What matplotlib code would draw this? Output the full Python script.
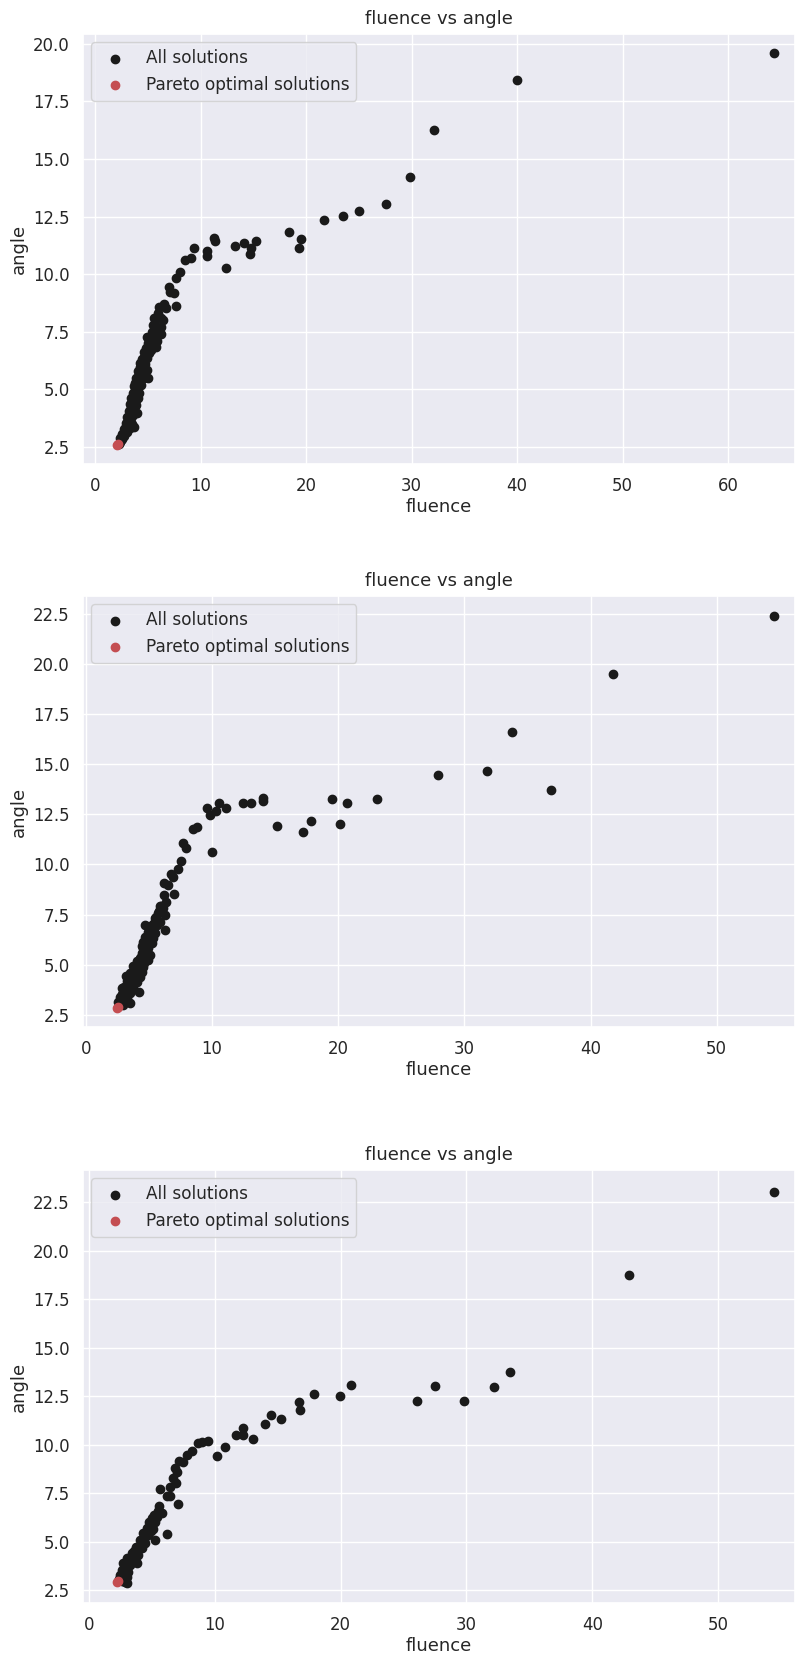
import matplotlib
matplotlib.use("Agg")
import matplotlib.pyplot as plt
import seaborn as sns
import numpy as np

sns.set_theme(style="darkgrid")
plt.rcParams['font.family'] = ['DejaVu Sans']

# ---------------- data ----------------
p1_fluence = [64.4, 40.0, 32.1, 29.9, 27.55, 25.0, 23.5, 21.7, 18.4, 19.5, 19.35, 15.3, 14.77, 14.67,
              14.1, 13.28, 12.4, 11.3, 11.4, 10.57, 10.66, 9.37, 9.08, 8.51, 8.04, 7.63, 7.0, 7.1, 7.48,
              7.7, 6.05, 6.52, 6.77, 6.21, 5.52, 6.21, 6.21, 4.95, 5.74, 5.26, 5.74, 4.63, 5.1, 4.3, 4.15,
              4.95, 5.0, 3.83, 3.99, 3.92, 3.53, 4.0, 3.2, 3.67, 2.89, 2.58,
              2.25, 2.35, 2.45, 2.55, 2.7, 2.4, 2.6, 2.8, 3.0, 2.7, 2.9, 3.1, 3.3, 3.5, 2.95, 3.2, 3.4,
              3.05, 3.3, 3.6, 3.2, 3.45, 3.7, 3.3, 3.6, 3.85, 3.45, 3.75, 4.05, 3.6, 3.85, 4.2, 3.7, 4.0,
              4.4, 3.9, 4.2, 4.6, 4.05, 4.5, 4.25, 4.7, 4.45, 4.9, 4.6, 4.85, 5.3, 5.0, 5.5, 5.9, 5.4,
              5.9, 5.7, 5.6, 6.0, 6.4]
p1_angle = [19.6, 18.43, 16.27, 14.2, 13.04, 12.75, 12.54, 12.33, 11.85, 11.53, 11.14, 11.44, 11.15, 10.88,
            11.37, 11.2, 10.26, 11.58, 11.45, 11.02, 10.79, 11.15, 10.72, 10.62, 10.11, 9.85, 9.46, 9.24, 9.17,
            8.63, 8.59, 8.7, 8.52, 8.08, 7.79, 7.72, 7.4, 7.26, 6.85, 7.14, 7.36, 6.41, 6.56, 5.98, 5.69,
            5.83, 5.47, 5.26, 4.97, 4.53, 4.1, 3.95, 3.66, 3.37, 3.23, 2.93,
            2.62, 2.7, 2.78, 2.85, 2.95, 2.9, 3.05, 3.1, 3.15, 3.25, 3.4, 3.45, 3.3, 3.5, 3.55, 3.6, 3.75,
            3.8, 3.9, 3.9, 4.05, 4.2, 4.15, 4.35, 4.45, 4.3, 4.6, 4.7, 4.6, 4.85, 5.05, 4.85, 5.15, 5.3,
            5.2, 5.5, 5.6, 5.5, 5.8, 5.9, 6.15, 6.1, 6.3, 6.35, 6.6, 6.8, 6.7, 7.0, 7.0, 7.1, 7.5,
            7.5, 7.8, 8.1, 8.3, 8.0]
p1_pareto_fluence = [2.12, 2.22]
p1_pareto_angle = [2.57, 2.6]

p2_fluence = [54.5, 41.8, 33.76, 31.82, 27.89, 36.87, 23.11, 20.68, 19.54, 20.15, 17.85, 17.24, 15.18,
              14.02, 14.07, 13.1, 12.44, 11.12, 10.59, 10.3, 9.85, 9.64, 9.98, 8.85, 8.53, 7.74, 7.95,
              7.53, 7.34, 6.74, 6.94, 6.23, 6.55, 7.02, 6.2, 6.36, 5.89, 6.15, 5.75, 6.28, 5.49, 5.89,
              5.23, 5.62, 4.7, 6.28, 4.96, 5.49, 4.7, 5.36, 4.56, 5.23, 4.56, 4.96, 4.44, 5.1, 4.3, 4.96,
              4.17, 4.56, 3.91, 4.44, 3.65, 4.3, 3.17, 3.51, 4.04, 3.25, 3.77, 2.85, 4.25, 3.11, 3.51,
              2.72, 3.25, 3.51, 2.58, 2.98,
              2.65, 2.8, 3.0, 2.9, 3.1, 3.35, 3.0, 3.4, 3.6, 3.3, 3.8, 3.5, 4.0, 3.75, 4.1, 4.6, 4.35,
              4.7, 4.5, 4.8, 5.0, 5.2, 5.4, 5.6, 5.8, 6.0, 2.7]
p2_angle = [22.4, 19.47, 16.61, 14.67, 14.45, 13.71, 13.24, 13.04, 13.24, 12.01, 12.16, 11.6, 11.93,
            13.32, 13.17, 13.07, 13.07, 12.82, 13.07, 12.66, 12.46, 12.82, 10.63, 11.85, 11.75, 11.05, 10.8,
            10.18, 9.76, 9.52, 9.39, 9.09, 8.97, 8.51, 8.48, 8.14, 7.93, 7.81, 7.56, 7.48, 7.32, 7.15,
            6.98, 6.98, 6.98, 6.73, 6.65, 6.6, 6.4, 6.32, 6.15, 6.07, 5.82, 5.82, 5.57, 5.49, 5.32, 5.24,
            5.07, 4.91, 4.74, 4.66, 4.49, 4.41, 4.44, 4.24, 4.16, 3.99, 3.91, 3.83, 3.66, 3.66, 3.58,
            3.41, 3.33, 3.08, 3.16, 3.0,
            3.0, 3.2, 3.35, 3.55, 3.15, 3.75, 3.9, 4.05, 4.3, 4.2, 4.55, 4.6, 4.85, 4.95, 5.2, 5.1, 5.4,
            5.6, 5.95, 6.2, 6.45, 6.8, 7.1, 7.4, 7.7, 7.95, 3.05]
p2_pareto_fluence = [2.45, 2.55]
p2_pareto_angle = [2.86, 2.9]

p3_fluence = [54.45, 42.96, 33.5, 32.2, 29.8, 27.5, 26.1, 20.83, 19.95, 17.86, 16.67, 16.75, 15.24, 14.44,
              14.02, 12.27, 13.06, 12.22, 11.69, 10.81, 10.2, 9.48, 8.96, 8.69, 8.16, 7.77, 7.18, 7.45,
              6.84, 7.02, 6.65, 6.92, 6.44, 5.64, 6.18, 6.44, 7.05, 5.59, 5.78, 5.17, 5.38, 4.79, 5.25,
              6.18, 4.59, 5.11, 4.32, 4.71, 5.25, 4.05, 4.45, 3.74, 4.19, 3.39, 3.92, 3.0, 3.66, 2.73,
              3.26, 3.79, 2.6, 3.12, 2.46, 3.0, 2.86, 3.0,
              2.35, 2.55, 2.7, 2.85, 3.0, 2.9, 3.2, 3.45, 3.6, 3.9, 4.1, 4.35, 4.55, 4.9, 4.95, 5.0, 5.5,
              2.45, 2.6]
p3_angle = [23.04, 18.75, 13.72, 12.95, 12.26, 13.03, 12.23, 13.08, 12.52, 12.6, 12.18, 11.78, 11.3, 11.54,
            11.06, 10.87, 10.28, 10.49, 10.49, 9.86, 9.42, 10.18, 10.11, 10.06, 9.68, 9.46, 9.17, 9.11,
            8.77, 8.6, 8.26, 8.0, 7.83, 7.69, 7.35, 7.35, 6.92, 6.83, 6.45, 6.37, 6.25, 6.02, 6.02,
            5.39, 5.68, 5.63, 5.42, 5.33, 5.08, 5.08, 4.91, 4.73, 4.65, 4.39, 4.3, 4.13, 4.13, 3.88,
            3.79, 3.88, 3.53, 3.44, 3.27, 3.19, 2.93, 2.85,
            3.05, 3.15, 3.3, 3.5, 3.65, 3.95, 4.0, 4.2, 4.5, 4.6, 4.85, 5.15, 5.45, 5.55, 5.85, 6.2, 6.55,
            3.1, 2.95]
p3_pareto_fluence = [2.22, 2.3]
p3_pareto_angle = [2.93, 2.95]

panels = [
    (p1_fluence, p1_angle, p1_pareto_fluence, p1_pareto_angle),
    (p2_fluence, p2_angle, p2_pareto_fluence, p2_pareto_angle),
    (p3_fluence, p3_angle, p3_pareto_fluence, p3_pareto_angle),
]

# ---------------- layout ----------------
W, H = 795, 1653
fig = plt.figure(figsize=(W / 100, H / 100), dpi=100)

# (top, bottom) pixel rows for each axes, left/right columns
boxes = [(34, 464), (596, 1027), (1170, 1603)]
left_px, right_px = 83, 795
xlims = [(-1.14, 66.35), (-0.21, 56.2), (-0.48, 56.12)]
ylims = [(1.75, 20.43), (1.90, 23.38), (1.83, 24.15)]
xticks = [np.arange(0, 61, 10), np.arange(0, 51, 10), np.arange(0, 51, 10)]
yticks = [np.arange(2.5, 20.1, 2.5), np.arange(2.5, 22.6, 2.5), np.arange(2.5, 22.6, 2.5)]

black = (0.1, 0.1, 0.1)
red = (0.7686, 0.3059, 0.3216)
text_col = (0.15, 0.15, 0.15)

for i, (fx, fy, px, py) in enumerate(panels):
    top, bot = boxes[i]
    ax = fig.add_axes([left_px / W, 1 - bot / H, (right_px - left_px) / W, (bot - top) / H])
    ax.scatter(fx, fy, c=[black], s=36, label="All solutions", zorder=2)
    ax.scatter(px, py, c=[red], s=36, label="Pareto optimal solutions", zorder=3)
    ax.set_xlim(*xlims[i])
    ax.set_ylim(*ylims[i])
    ax.set_xticks(xticks[i])
    ax.set_yticks(yticks[i])
    ax.tick_params(labelsize=11.9, colors=text_col)
    ax.set_xlabel("fluence", fontsize=13, color=text_col, labelpad=2)
    ax.set_ylabel("angle", fontsize=13, color=text_col, labelpad=4)
    ax.set_title("fluence vs angle", fontsize=13, color=text_col, pad=7)
    leg = ax.legend(loc="upper left", fontsize=12.2, frameon=True)
    for t in leg.get_texts():
        t.set_color(text_col)

fig.savefig("out.png", dpi=100)
